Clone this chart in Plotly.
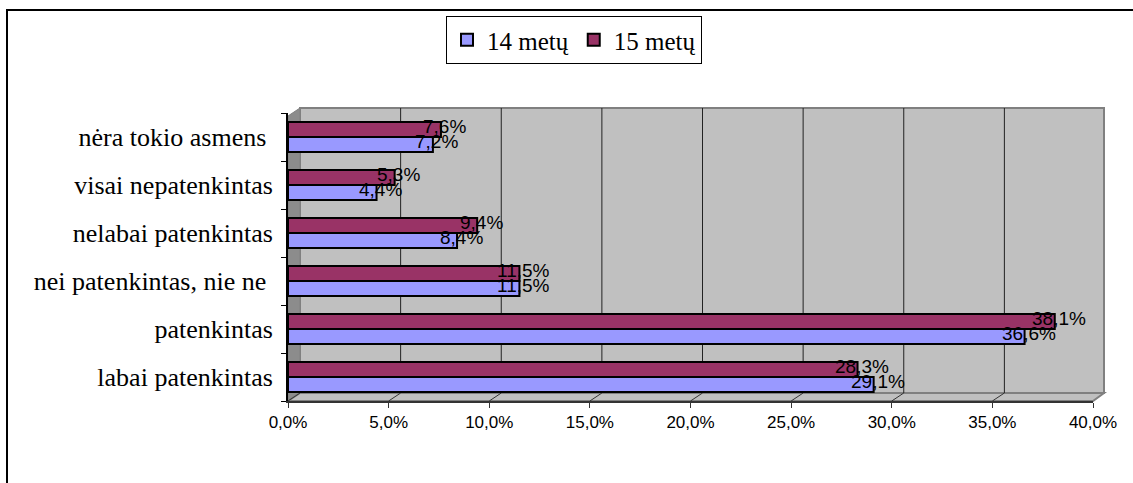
import plotly.graph_objects as go

# Survey answers, listed from the bottom row of the chart to the top row
categories = [
    "labai patenkintas",
    "patenkintas",
    "nei patenkintas, nie ne",
    "nelabai patenkintas",
    "visai nepatenkintas",
    "nėra tokio asmens",
]
age14 = [29.1, 36.6, 11.5, 8.4, 4.4, 7.2]
age15 = [28.3, 38.1, 11.5, 9.4, 5.3, 7.6]
series_names = ["14 metų", "15 metų"]
x_ticks = [0, 5, 10, 15, 20, 25, 30, 35, 40]
x_tick_text = [f"{v:.1f}%".replace(".", ",") for v in x_ticks]
# two of the row labels carry a trailing space in the source table
y_tick_text = [
    "labai patenkintas",
    "patenkintas",
    "nei patenkintas, nie ne\u00a0",
    "nelabai patenkintas",
    "visai nepatenkintas",
    "nėra tokio asmens\u00a0",
]

W, H = 1133, 483
L, R, T, B = 288, 40, 113, 82
PW, PH = W - L - R, H - T - B
DX, DY = 12, 8  # depth of the pseudo-3D box, px


def px(xp):
    return (xp - L) / PW


def py(yp):
    return (H - B - yp) / PH


fig = go.Figure()
colors = ["#9999FF", "#993366"]
for name, vals, col in zip(series_names, [age14, age15], colors):
    fig.add_trace(go.Bar(
        y=categories, x=vals, name=name, orientation="h",
        marker=dict(color=col, line=dict(color="black", width=2)),
    ))

shapes = []
# back wall
shapes.append(dict(type="rect", xref="paper", yref="paper",
                   x0=px(L + DX), x1=px(L + PW + DX - 1), y0=py(H - B - DY), y1=py(T - 5),
                   fillcolor="#C0C0C0", line=dict(color="#808080", width=2), layer="below"))
# left side wall
shapes.append(dict(type="path", xref="paper", yref="paper",
                   path=f"M {px(L)},{py(H-B)} L {px(L)},{py(T+3)} L {px(L+DX)},{py(T-5)} "
                        f"L {px(L+DX)},{py(H-B-DY)} Z",
                   fillcolor="#8C8C8C", line=dict(color="#808080", width=1), layer="below"))
# floor
shapes.append(dict(type="path", xref="paper", yref="paper",
                   path=f"M {px(L)},{py(H-B)} L {px(L+DX)},{py(H-B-DY)} L {px(L+PW+DX-1)},{py(H-B-DY)} "
                        f"L {px(L+PW)},{py(H-B)} Z",
                   fillcolor="#C0C0C0", line=dict(color="#808080", width=2), layer="below"))
# grid lines on the back wall and diagonal ticks on the floor
for v in x_ticks:
    if 0 < v < 40:
        shapes.append(dict(type="line", xref="x", yref="paper", xsizemode="pixel", xanchor=v,
                           x0=DX, x1=DX, y0=py(H - B - DY), y1=py(T - 5),
                           line=dict(color="#222222", width=1), layer="below"))
    shapes.append(dict(type="line", xref="x", yref="paper", xsizemode="pixel", xanchor=v,
                       x0=0, x1=DX, y0=py(H - B), y1=py(H - B - DY),
                       line=dict(color="#333333", width=1), layer="below"))
# outer frame
shapes.append(dict(type="rect", xref="paper", yref="paper",
                   x0=px(7), x1=px(W + 20), y0=py(H + 20), y1=py(10),
                   fillcolor="rgba(0,0,0,0)", line=dict(color="black", width=2)))

# value labels at bar ends
annotations = []
for vals, shift in [(age14, -4), (age15, 11)]:
    for cat, v in zip(categories, vals):
        annotations.append(dict(
            x=v, y=cat, xref="x", yref="y", text=f"{v:.1f}%".replace(".", ","),
            showarrow=False, xshift=4, yshift=shift,
            font=dict(family="Liberation Sans, Arial", size=19, color="black"),
        ))

fig.update_layout(
    width=W, height=H,
    margin=dict(l=L, r=R, t=T, b=B),
    paper_bgcolor="white", plot_bgcolor="rgba(0,0,0,0)",
    barmode="group", bargap=0.375, bargroupgap=0,
    shapes=shapes, annotations=annotations,
    showlegend=True,
    legend=dict(
        orientation="h", x=px(574), xanchor="center", y=py(16), yanchor="top",
        bordercolor="black", borderwidth=1, bgcolor="white",
        font=dict(family="Liberation Serif, Times New Roman", size=25, color="black"),
        itemwidth=30, traceorder="normal", tracegroupgap=0,
    ),
    xaxis=dict(
        range=[0, 40], tickvals=x_ticks, ticktext=x_tick_text,
        showgrid=False, zeroline=False,
        showline=True, linecolor="#333333", linewidth=2,
        ticks="outside", ticklen=5, tickcolor="#333333",
        tickfont=dict(family="Liberation Sans, Arial", size=17, color="black"),
    ),
    yaxis=dict(
        categoryorder="array", categoryarray=categories,
        tickvals=categories, ticktext=y_tick_text,
        showgrid=False, zeroline=False,
        showline=True, linecolor="black", linewidth=2,
        ticks="outside", ticklen=5, tickcolor="black", tickson="boundaries",
        ticklabelstandoff=8,
        tickfont=dict(family="Liberation Serif, Times New Roman", size=26, color="black"),
    ),
)

fig.write_html("out.html")
